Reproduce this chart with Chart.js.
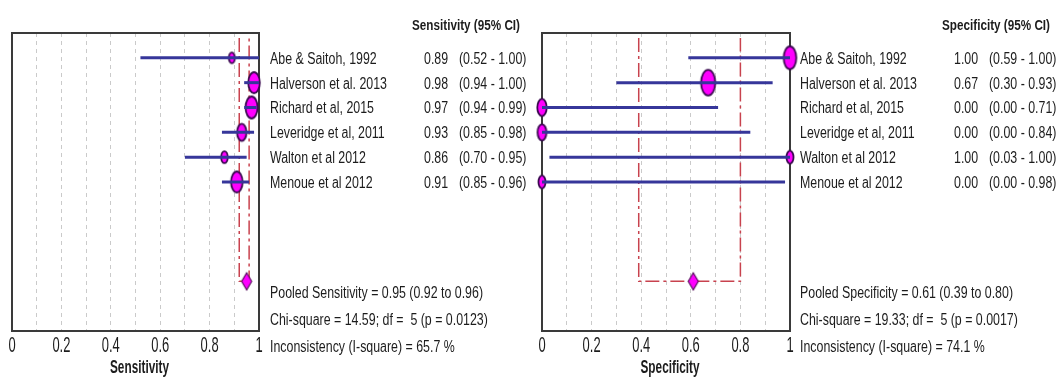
<!DOCTYPE html>
<html>
<head>
<meta charset="utf-8">
<script src="https://cdn.jsdelivr.net/npm/chart.js@4.4.0/dist/chart.umd.min.js"></script>
<style>
html, body { margin: 0; padding: 0; background: #fff; }
#wrap { position: relative; width: 1061px; height: 381px; overflow: hidden; }
#sens { position: absolute; left: 0; top: 0; }
#spec { position: absolute; left: 530px; top: 0; }
</style>
</head>
<body>
<div id="wrap">
  <canvas id="sens" width="530" height="381"></canvas>
  <canvas id="spec" width="531" height="381"></canvas>
</div>
<script>
// study data
var studies = ['Abe & Saitoh, 1992', 'Halverson et al. 2013', 'Richard et al, 2015',
               'Leveridge et al, 2011', 'Walton et al 2012', 'Menoue et al 2012'];

var sensValues = [0.89, 0.98, 0.97, 0.93, 0.86, 0.91];
var sensLow    = [0.52, 0.94, 0.94, 0.85, 0.70, 0.85];
var sensHigh   = [1.00, 1.00, 0.99, 0.98, 0.95, 0.96];
var sensWeight = [4.5, 20, 21.5, 14, 6, 20];
var sensPooled = [0.95, 0.92, 0.96];
var sensStats  = ['Pooled Sensitivity = 0.95 (0.92 to 0.96)',
                  'Chi-square = 14.59; df =  5 (p = 0.0123)',
                  'Inconsistency (I-square) = 65.7 %'];

var specValues = [1.00, 0.67, 0.00, 0.00, 1.00, 0.00];
var specLow    = [0.59, 0.30, 0.00, 0.00, 0.03, 0.00];
var specHigh   = [1.00, 0.93, 0.71, 0.84, 1.00, 0.98];
var specWeight = [23, 27.5, 14, 12.5, 7.5, 7.5];
var specPooled = [0.61, 0.39, 0.80];
var specStats  = ['Pooled Specificity = 0.61 (0.39 to 0.80)',
                  'Chi-square = 19.33; df =  5 (p = 0.0017)',
                  'Inconsistency (I-square) = 74.1 %'];

var pooledRow = 10;

function ellipseImage(w, h) {
    var c = document.createElement('canvas');
    c.width = Math.ceil(w) + 4;
    c.height = Math.ceil(h) + 4;
    var g = c.getContext('2d');
    g.beginPath();
    g.ellipse(c.width / 2, c.height / 2, w / 2, h / 2, 0, 0, Math.PI * 2);
    g.fillStyle = '#ff00ff';
    g.fill();
    g.lineWidth = 1.8;
    g.strokeStyle = '#3a0a50';
    g.stroke();
    return c;
}

function diamondImage(w, h) {
    var c = document.createElement('canvas');
    c.width = w + 4;
    c.height = h + 4;
    var g = c.getContext('2d');
    var cx = c.width / 2, cy = c.height / 2;
    g.beginPath();
    g.moveTo(cx, cy - h / 2);
    g.lineTo(cx + w / 2, cy);
    g.lineTo(cx, cy + h / 2);
    g.lineTo(cx - w / 2, cy);
    g.closePath();
    g.fillStyle = '#ff00ff';
    g.fill();
    g.lineWidth = 1.2;
    g.strokeStyle = '#5a1060';
    g.stroke();
    return c;
}

// squeeze text horizontally like the narrow font of the original
var measure = document.createElement('canvas').getContext('2d');
function squeeze(font, sample, target) {
    measure.font = font;
    return target / measure.measureText(sample).width;
}
var textFont  = '16px "Liberation Sans", Arial, sans-serif';
var headFont  = 'bold 15px "Liberation Sans", Arial, sans-serif';
var tickFont  = '22px "Liberation Sans", Arial, sans-serif';
var titleFont = 'bold 18px "Liberation Sans", Arial, sans-serif';
var textSx  = squeeze(textFont, sensStats[0], 213);
var headSx  = squeeze(headFont, 'Sensitivity (95% CI)', 108);
var tickSx  = squeeze(tickFont, '0.2', 18);
var titleSx = squeeze(titleFont, 'Sensitivity', 59);

function drawText(ctx, txt, x, y, font, sx, align) {
    ctx.save();
    ctx.font = font;
    ctx.fillStyle = '#1c1c1c';
    ctx.textBaseline = 'middle';
    ctx.textAlign = align || 'left';
    ctx.translate(x, y);
    ctx.scale(sx, 1);
    ctx.fillText(txt, 0, 0);
    ctx.restore();
}

var boxPlugin = {
    id: 'box',
    beforeDatasetsDraw: function(chart) {
        var a = chart.chartArea, ctx = chart.ctx;
        ctx.save();
        ctx.lineWidth = 2;
        ctx.strokeStyle = '#3a3a3a';
        ctx.strokeRect(a.left, a.top, a.right - a.left, a.bottom - a.top);
        ctx.restore();
    }
};

var tablePlugin = {
    id: 'table',
    afterDraw: function(chart) {
        var o = chart.options.plugins.table;
        var ctx = chart.ctx, x = chart.scales.x, y = chart.scales.y, a = chart.chartArea;
        // x axis tick labels (every other tick) and axis title, narrow style
        x.ticks.forEach(function(t) {
            var k = Math.round(t.value * 10);
            if (k % 2 === 0) drawText(ctx, String(k / 10), x.getPixelForValue(t.value), a.bottom + 15, tickFont, tickSx, 'center');
        });
        drawText(ctx, o.title, (a.left + a.right) / 2 + 4, a.bottom + 37, titleFont, titleSx, 'center');

        drawText(ctx, o.header, 412, 26, headFont, headSx);
        for (var i = 0; i < studies.length; i++) {
            var py = y.getPixelForValue(i + 1) + 1.5;
            drawText(ctx, studies[i], 270, py, textFont, textSx);
            drawText(ctx, o.values[i].toFixed(2), 424, py, textFont, textSx);
            drawText(ctx, '(' + o.low[i].toFixed(2) + ' - ' + o.high[i].toFixed(2) + ')', 459, py, textFont, textSx);
        }
        var base = y.getPixelForValue(pooledRow);
        for (var k = 0; k < o.stats.length; k++) {
            drawText(ctx, o.stats[k], 270, base + 12 + k * 27, textFont, textSx);
        }
    }
};

function buildChart(id, title, header, values, low, high, weight, pooled, stats) {
    var datasets = [];
    // study markers
    datasets.push({
        data: values.map(function(v, i) { return { x: v, y: i + 1 }; }),
        pointStyle: weight.map(function(w) {
            var h = 8 + w * 0.65;
            return ellipseImage(h * 0.55, h);
        }),
        pointRadius: 8,
        order: 3,
        clip: false
    });
    // confidence interval lines
    for (var i = 0; i < values.length; i++) {
        datasets.push({
            data: [{ x: low[i], y: i + 1 }, { x: high[i], y: i + 1 }],
            showLine: true,
            borderColor: '#36369a',
            borderWidth: 3,
            pointRadius: 0,
            order: 2,
            clip: false
        });
    }
    // pooled CI bracket
    datasets.push({
        data: [{ x: pooled[1], y: 0.2 }, { x: pooled[1], y: pooledRow },
               { x: pooled[2], y: pooledRow }, { x: pooled[2], y: 0.2 }],
        showLine: true,
        borderColor: '#c8424e',
        borderWidth: 1.5,
        borderDash: [14, 4, 3, 4],
        pointRadius: 0,
        order: 4
    });
    // pooled diamond
    datasets.push({
        data: [{ x: pooled[0], y: pooledRow }],
        pointStyle: diamondImage(10, 17),
        pointRadius: 8,
        order: 1,
        clip: false
    });

    return new Chart(document.getElementById(id), {
        type: 'scatter',
        data: { datasets: datasets },
        options: {
            responsive: false,
            animation: false,
            layout: { padding: { left: 12, right: 271, top: 33, bottom: 50 } },
            scales: {
                x: {
                    type: 'linear', min: 0, max: 1,
                    grid: {
                        drawTicks: false,
                        lineWidth: 1,
                        color: function(c) {
                            var v = c.tick ? c.tick.value : 0;
                            return (v < 0.001 || v > 0.999) ? 'rgba(0,0,0,0)' : '#cacaca';
                        }
                    },
                    border: { display: false, dash: [4, 4] },
                    ticks: { display: false, stepSize: 0.1, autoSkip: false }
                },
                y: { type: 'linear', min: 0, max: 12, reverse: true, display: false }
            },
            plugins: {
                legend: { display: false },
                tooltip: { enabled: false },
                table: { title: title, header: header, values: values, low: low, high: high, stats: stats }
            }
        },
        plugins: [boxPlugin, tablePlugin]
    });
}

buildChart('sens', 'Sensitivity', 'Sensitivity (95% CI)', sensValues, sensLow, sensHigh, sensWeight, sensPooled, sensStats);
buildChart('spec', 'Specificity', 'Specificity (95% CI)', specValues, specLow, specHigh, specWeight, specPooled, specStats);
</script>
</body>
</html>
